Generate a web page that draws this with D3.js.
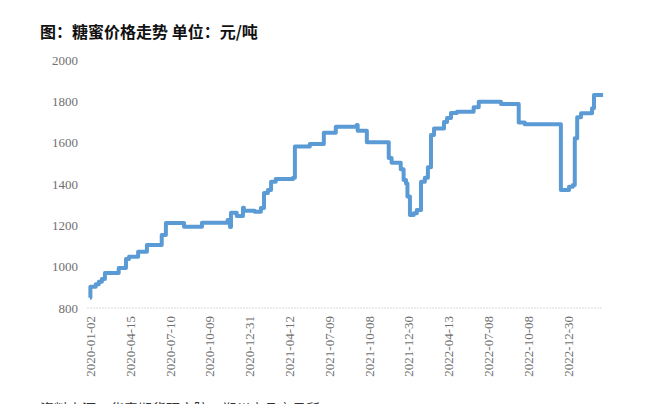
<!DOCTYPE html>
<html>
<head>
<meta charset="utf-8">
<script src="https://cdn.jsdelivr.net/npm/d3@7"></script>
<style>
  body { margin: 0; background: #fff; }
  svg { display: block; }
</style>
</head>
<body>
<div id="chart"></div>
<script>
// tick labels on the category-like date axis (evenly spaced in the original)
var tickLabels = ["2020-01-02", "2020-04-15", "2020-07-10", "2020-10-09", "2020-12-31",
  "2021-04-12", "2021-07-09", "2021-10-08", "2021-12-30", "2022-04-13",
  "2022-07-08", "2022-10-08", "2022-12-30"];

var yTicks = [800, 1000, 1200, 1400, 1600, 1800, 2000];

// molasses price, yuan/ton, at each change date
var dates = ["2020-01-02", "2020-01-03", "2020-01-17", "2020-01-25", "2020-02-02", "2020-02-10",
  "2020-03-17", "2020-04-05", "2020-04-13", "2020-05-03", "2020-05-22", "2020-06-23",
  "2020-07-02", "2020-08-12", "2020-09-22", "2020-11-16", "2020-11-21", "2020-11-23",
  "2020-12-05", "2020-12-18", "2020-12-20", "2021-01-14", "2021-01-30", "2021-02-07",
  "2021-02-17", "2021-02-25", "2021-03-09", "2021-04-21", "2021-04-25", "2021-05-28",
  "2021-06-28", "2021-07-25", "2021-09-11", "2021-09-13", "2021-10-04", "2021-11-19",
  "2021-11-25", "2021-12-14", "2021-12-20", "2021-12-25", "2021-12-28", "2022-01-03",
  "2022-01-13", "2022-01-21", "2022-02-01", "2022-02-11", "2022-02-19", "2022-02-27",
  "2022-03-07", "2022-04-02", "2022-04-10", "2022-04-19", "2022-05-02", "2022-06-07",
  "2022-06-18", "2022-08-07", "2022-09-17", "2022-10-01", "2022-12-16", "2023-01-02",
  "2023-01-10", "2023-01-14", "2023-01-19", "2023-01-27", "2023-02-19", "2023-02-23",
  "2023-03-14"];
var prices = [850, 903, 915, 927, 940, 969,
  993, 1037, 1048, 1072, 1105, 1153,
  1211, 1193, 1213, 1226, 1192, 1261,
  1245, 1285, 1271, 1266, 1284, 1356,
  1371, 1411, 1424, 1430, 1581, 1594,
  1648, 1677, 1685, 1658, 1602, 1526,
  1503, 1471, 1419, 1403, 1339, 1250,
  1259, 1274, 1411, 1430, 1481, 1637,
  1669, 1700, 1719, 1743, 1750, 1771,
  1798, 1787, 1697, 1689, 1371, 1387,
  1395, 1621, 1723, 1742, 1766, 1831,
  1831];

var width = 664, height = 404;
var parse = d3.timeParse("%Y-%m-%d");

var svg = d3.select("#chart").append("svg")
  .attr("width", width)
  .attr("height", height);

svg.append("text")
  .attr("x", 40)
  .attr("y", 38)
  .style("font-family", "'Noto Sans CJK SC', sans-serif")
  .style("font-size", "16px")
  .style("font-weight", "bold")
  .style("fill", "#111")
  .text("图：糖蜜价格走势 单位：元/吨");

// piecewise time scale: each labelled date sits on an even step
var step = 39.8, x0 = 90;
var x = d3.scaleTime()
  .domain(tickLabels.map(parse))
  .range(tickLabels.map((d, i) => x0 + i * step));

var y = d3.scaleLinear()
  .domain([800, 2000])
  .range([308, 60]);

var serif = "'Liberation Serif', 'Times New Roman', serif";

// y labels, no axis line
var gY = svg.append("g")
  .attr("transform", "translate(78,0)")
  .call(d3.axisLeft(y).tickValues(yTicks).tickSize(0).tickPadding(0).tickFormat(d3.format("d")));
gY.select(".domain").remove();
gY.selectAll("text")
  .style("font-family", serif)
  .style("font-size", "13px")
  .style("fill", "#6f6f6f");

// x baseline
svg.append("line")
  .attr("x1", 87).attr("x2", 602)
  .attr("y1", y(800)).attr("y2", y(800))
  .style("stroke", "#d9d9d9")
  .style("stroke-width", 1.2)
  .style("stroke-dasharray", "2,1");

var gX = svg.append("g")
  .attr("transform", "translate(0,316)")
  .call(d3.axisBottom(x).tickValues(tickLabels.map(parse)).tickSize(0).tickFormat(d3.timeFormat("%Y-%m-%d")));
gX.select(".domain").remove();
gX.selectAll("text")
  .attr("transform", "rotate(-90)")
  .attr("text-anchor", "end")
  .attr("x", 0)
  .attr("y", 0)
  .attr("dy", "0.35em")
  .style("font-family", serif)
  .style("font-size", "13px")
  .style("fill", "#6f6f6f");

var data = dates.map((d, i) => ({date: parse(d), value: prices[i]}));

var line = d3.line()
  .x(d => x(d.date))
  .y(d => y(d.value))
  .curve(d3.curveStepAfter);

svg.append("path")
  .datum(data)
  .attr("d", line)
  .style("fill", "none")
  .style("stroke", "#5b9bd5")
  .style("stroke-width", 4)
  .style("stroke-linejoin", "round");

// source note, cut off at the bottom edge like the original
svg.append("text")
  .attr("x", 40)
  .attr("y", 414)
  .style("font-family", "'Noto Sans CJK SC', sans-serif")
  .style("font-size", "14px")
  .style("fill", "#333")
  .text("资料来源：华泰期货研究院，郑州商品交易所");
</script>
</body>
</html>
